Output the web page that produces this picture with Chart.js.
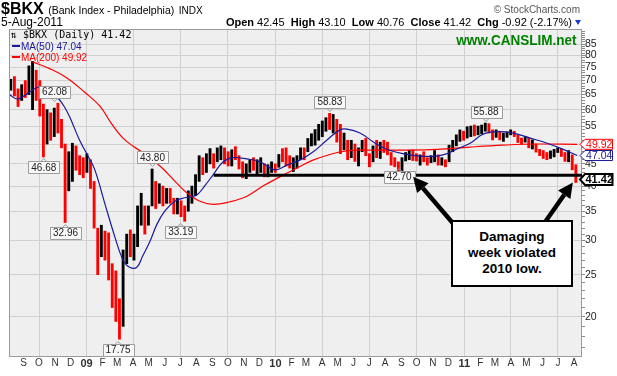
<!DOCTYPE html>
<html><head><meta charset="utf-8">
<script src="https://cdn.jsdelivr.net/npm/chart.js@4.4.1/dist/chart.umd.min.js"></script>
<style>
html,body{margin:0;padding:0;background:#fff;}
#wrap{position:relative;width:617px;height:376px;overflow:hidden;font-family:"Liberation Sans",Arial,sans-serif;color:#000;}
canvas{position:absolute;left:0;top:0;}
.t{position:absolute;white-space:nowrap;line-height:1;}
</style></head><body>
<div id="wrap">
<canvas id="c" width="617" height="376"></canvas>
<div class="t" style="left:1px;top:1px;"><b style="font-size:16px">$BKX</b> <span style="font-size:10.5px">(Bank Index - Philadelphia)</span> <span style="font-size:10px">INDX</span></div>
<div class="t" style="left:1px;top:16px;font-size:12px">5-Aug-2011</div>
<div class="t" style="right:45px;top:17px;font-size:11px"><b>Open</b> 42.45&nbsp; <b>High</b> 43.10&nbsp; <b>Low</b> 40.76&nbsp; <b>Close</b> 41.42&nbsp; <b>Chg</b> -0.92 (-2.17%)</div>
<div style="position:absolute;left:575px;top:20px;width:0;height:0;border-left:3.5px solid transparent;border-right:3.5px solid transparent;border-top:5px solid #1a3cd0;"></div>
<div class="t" style="right:37px;top:5px;font-size:10px;color:#555">© StockCharts.com</div>
<div class="t" style="right:40px;top:32px;font-size:15px;font-weight:bold;color:#008000;transform:scaleX(0.9);transform-origin:right center">www.CANSLIM.net</div>
<div class="t" style="left:11px;top:30px;font-size:10px;font-family:'DejaVu Sans Mono',monospace">⇅ $BKX (Daily) 41.42</div>
<div style="position:absolute;left:12px;top:45px;width:8px;height:2px;background:#1a1a9a"></div>
<div class="t" style="left:21px;top:41.5px;font-size:10px;color:#1a1a9a">MA(50) 47.04</div>
<div style="position:absolute;left:12px;top:56px;width:8px;height:2px;background:#ff0000"></div>
<div class="t" style="left:21px;top:52.5px;font-size:10px;color:#ff0000">MA(200) 49.92</div>
<div style="position:absolute;left:451px;top:220px;width:122px;height:67px;box-sizing:border-box;border:2px solid #000;background:#fff;font-weight:bold;font-size:13.5px;text-align:center;line-height:16px;padding-top:7px;">Damaging<br>week violated<br>2010 low.</div>
</div>
<script>
// ---- DATA (weekly bars; week index 0 = week of 4-Aug-2008) ----
const highs = [70.5,
 71.5,67,68.5,70,75.7,77.5,74,70,61.8,60,
 59,60.5,62.08,57,50,48,50.2,49.5,47,46.5,
 47.5,46,41,32,32.5,31.5,31.2,26.5,25.5,22,
 28.5,31,31.7,31,36,38.5,36,36,43.8,41,
 40.5,40,39.5,39.5,37.5,37.5,37,36,39,40,
 42.5,47,46.5,47.5,48.8,47.5,49,49.5,49,48,
 48.5,49.3,47,45.5,45,46,46.5,46,46.5,45,
 44.8,45.5,45,47.3,48.8,49,47,46.5,47,49,
 49,51.5,52.8,54,55.5,56.5,57.5,58.83,58.5,57,
 55.5,53,51,51,50,49,51,51.5,47.5,49.5,
 51,50.5,51,50.5,47.8,46.5,45.5,46.5,47.8,48.4,
 48.5,47.5,47.2,48,46.5,47,48.3,47.2,46.5,46,
 49.7,51,52.5,53.9,53.5,54.8,55,55.3,55,55.3,
 55.88,55.7,53.9,53.9,53.5,53,53.3,53.9,53.5,52.5,
 51.6,52,51.6,51.1,50,48.6,48.3,47.8,48.2,48.6,
 49,48.7,47.8,48.3,47.2,44.8];
const lows = [66.5,
 64.5,61,63,64,65,60,63,58,46.68,50,
 51,52,53,49,32.96,39,41,43.5,42.5,41.8,
 43,39.5,32,25,27.5,27,24.3,21,19.5,17.75,
 19,26.5,27.5,27,29,32.5,31,32.5,36,35.5,
 36.5,36,36.5,36.5,34.5,34.5,34,33.19,35,36.5,
 38,41,42.5,43,45,44,45.5,46,45,44.5,
 44.5,46,43.8,41.8,41.6,43,43.5,42.5,43,42,
 42,43,43,44.2,45.5,44.5,44,43.2,44,46,
 46,48,49.5,49.7,51,52,53.5,54,53,50.5,
 47.5,48.5,46,46.5,45.6,44.5,48,47,44.3,45.5,
 46.5,46.3,47.8,47.2,44.7,44.3,43,42.7,45.7,46,
 45.8,45.7,44.7,45.5,44.7,45.3,45.5,44.7,44.7,44.3,
 45.5,48,49.5,50.7,51,51.6,52,52.2,52.5,52.8,
 53.5,53,51.1,51.8,51.1,50.7,51.8,52.5,52,50.4,
 50,50.5,49,48.7,47.9,47,46.3,46,46.3,46.7,
 47.8,46.8,45.6,45.5,43.6,40.76];
const closes = [69,
 65.5,63,67,65,70,76,66,61,52,55,
 53,59,54,50,37,45,47,45,44,43,
 46,40,33.5,27,30,29.5,25,22,21,19,
 27,29.5,29,30.5,35,37,34,35.5,40.5,37,
 39,38,38.5,37.5,35.5,36,35,34,38.5,39.5,
 42,45.5,44,46.5,47,45,48,48.5,46,45,
 47.5,47,44.5,42.5,44,45.5,44,44.5,45,43,
 43.5,44.5,44,47,46,45,44.5,45,46,48,
 47.5,51,52,53,54.5,55.5,57,55,57,51.5,
 48.5,50.5,47,49,46.5,47,50,48,45,48,
 47,49.5,49,48.5,45,44.5,44,46,46.5,47,
 46.5,46,46.5,46,45.5,46,46.5,45,46,45,
 49,50,51,53,52.5,53.5,54,53.5,54.5,55,
 55,54,52,53,51.5,52,53,53.5,52.5,51,
 50.8,51.5,49.5,49.8,48.5,47.5,46.8,46.3,47,48,
 48.7,47.5,46,47.5,44.5,41.42];

const ma50Week = [0.2,2.4,5.7,7.6,9.0,11.2,13.4,15.4,16.8,19.5,21.7,23.7,26.4,29.2,31.4,33.3,35.3,36.9,38.9,40.8,43.0,45.8,48.5,50.5,52.1,54.1,56.3,59.0,61.8,65.7,69.3,73.4,76.7,80.3,83.9,87.8,91.4,93.3,96.9,100.5,102.4,105.2,108.8,113.5,118.2,121.0,123.7,127.3,130.9,134.8,139.2,143.9,148.6,153.0,156.9];
const ma50 = [64.9,63.5,65.9,67.4,67.7,66.1,64.0,60.7,57.6,51.0,47.1,43.6,36.6,30.6,27.1,26.0,26.0,27.6,29.8,32.6,35.0,36.9,37.6,37.8,38.3,40.1,42.4,45.4,46.5,46.2,45.5,43.6,44.7,45.9,47.9,51.1,53.9,54.1,53.0,50.6,49.5,48.3,47.5,46.9,46.9,47.5,48.7,50.2,52.7,53.4,53.0,51.6,50.2,48.6,47.04];
const ma200Week = [6.5,11.2,15.9,20.9,25.1,28.3,32.0,37.5,42.2,46.6,49.4,52.7,56.3,61.0,65.7,70.1,74.8,79.5,83.9,88.6,92.2,96.1,102.4,108.8,118.2,127.3,136.4,145.8,156.9];
const ma200 = [77.3,74.6,71.1,65.8,61.1,55.7,51.1,47.4,44.1,40.4,38.4,36.9,36.3,36.8,37.9,40.0,42.0,44.0,45.9,47.3,48.1,48.4,48.4,48.4,48.6,49.2,49.7,50.0,49.92];

const monthLabels = ['S','O','N','D','09','F','M','A','M','J','J','A','S','O','N','D','10','F','M','A','M','J','J','A','S','O','N','D','11','F','M','A','M','J','J','A'];
const yTicks = [85,80,75,70,65,60,55,50,45,40,35,30,25,20];

const labelText  = ['62.08','46.68','32.96','17.75','43.80','33.19','58.83','42.70','55.88'];
const labelValue = [62.08,46.68,32.96,17.75,43.80,33.19,58.83,42.70,55.88];
const labelWeek  = [12.6,9.6,15.6,30.1,39.6,47.4,88.6,107.7,131.7];
const labelSide  = [1,-1,-1,-1,1,-1,1,-1,1];

const lastClose = 41.42, lastMA50 = 47.04, lastMA200 = 49.92;
const supportLevel = 42.35, supportFromWeek = 56.5;

// ---- layout helpers ----
const FONT = '"Liberation Sans", Arial, sans-serif';
Chart.defaults.font.family = FONT;
const t0 = Date.UTC(2008,7,4);
const monthPos = monthLabels.map((_,i)=>{ const m = 8+i; return (Date.UTC(2008+Math.floor(m/12), m%12, 1)-t0)/(7*86400000); });
const monthNum = monthLabels.map((_,i)=> (8+i)%12);
const yMinor = []; for(let v=17; v<=91; v++) yMinor.push(v);

const barData = highs.map((h,i)=>({x:i+0.5, y:[lows[i],h]}));
const barColors = closes.map((c,i)=> (i>0 && c<closes[i-1]) ? '#ff0000' : '#000000');

const GRID = '#d0d0d0';
const bgPlugin = {
  id:'bg',
  beforeDraw(chart){
    const {ctx, chartArea:a} = chart;
    ctx.save(); ctx.fillStyle='#efefef'; ctx.fillRect(a.left,a.top,a.right-a.left,a.bottom-a.top); ctx.restore();
  },
  afterDraw(chart){
    const {ctx, chartArea:a, scales:{x,y}} = chart;
    ctx.save();
    ctx.strokeStyle='#9a9a9a'; ctx.lineWidth=1;
    ctx.strokeRect(Math.round(a.left)+0.5, Math.round(a.top)+0.5, Math.round(a.right-a.left)-1, Math.round(a.bottom-a.top)-1);
    const sy = y.getPixelForValue(supportLevel);
    ctx.strokeStyle='#000'; ctx.lineWidth=3;
    ctx.beginPath(); ctx.moveTo(x.getPixelForValue(supportFromWeek), sy); ctx.lineTo(a.right, sy); ctx.stroke();
    ctx.font = '10px '+FONT; ctx.textAlign='center'; ctx.textBaseline='middle';
    labelText.forEach((t,i)=>{
      const px = x.getPixelForValue(labelWeek[i]);
      const tip = y.getPixelForValue(labelValue[i]);
      let cy = labelSide[i]>0 ? tip-11.5 : tip+10.5;
      if (t==='42.70') cy = tip+3;
      const w = Math.round(ctx.measureText(t).width)+6, h=12;
      const l = Math.round(px-w/2)+0.5, tp = Math.round(cy-h/2)+0.5;
      ctx.fillStyle='#f8f8f8'; ctx.strokeStyle='#9c9c9c'; ctx.lineWidth=1;
      ctx.beginPath();
      ctx.rect(l,tp,w,h); ctx.fill(); ctx.stroke();
      ctx.beginPath();
      if (labelSide[i]>0){ ctx.moveTo(px-3,tp+h); ctx.lineTo(px,tp+h+3); ctx.lineTo(px+3,tp+h); }
      else { ctx.moveTo(px-3,tp); ctx.lineTo(px,tp-3); ctx.lineTo(px+3,tp); }
      ctx.stroke();
      ctx.fillStyle='#222'; ctx.fillText(t, px, cy+0.5);
    });
    const boxes = [[lastMA200,'#ff0000',false],[lastMA50,'#1a1a9a',false],[lastClose,'#000000',true]];
    boxes.forEach(([v,col,bold])=>{
      const cy = y.getPixelForValue(v);
      const h = bold?11:10, tipX = a.right-2, bl = tipX+5, br = 612.5;
      ctx.beginPath();
      ctx.moveTo(tipX,cy); ctx.lineTo(bl,cy-h/2); ctx.lineTo(br,cy-h/2); ctx.lineTo(br,cy+h/2); ctx.lineTo(bl,cy+h/2); ctx.closePath();
      ctx.fillStyle='#fff'; ctx.fill();
      ctx.strokeStyle=col; ctx.lineWidth=bold?2:1; ctx.stroke();
      ctx.fillStyle=col; ctx.font=(bold?'bold 11px ':'10.5px ')+FONT; ctx.textAlign='center';
      ctx.fillText(v.toFixed(2), (bl+br)/2+0.5, cy+0.5);
    });
    const arrow = (x1,y1,x2,y2)=>{
      const ang = Math.atan2(y2-y1,x2-x1), L=15, W=7.5;
      const bx = x2-L*Math.cos(ang), by = y2-L*Math.sin(ang);
      ctx.strokeStyle='#000'; ctx.lineWidth=4.5; ctx.lineCap='butt';
      ctx.beginPath(); ctx.moveTo(x1,y1); ctx.lineTo(bx,by); ctx.stroke();
      ctx.fillStyle='#000'; ctx.beginPath();
      ctx.moveTo(x2,y2);
      ctx.lineTo(bx+W*Math.sin(ang), by-W*Math.cos(ang));
      ctx.lineTo(bx-W*Math.sin(ang), by+W*Math.cos(ang));
      ctx.closePath(); ctx.fill();
    };
    const lx = x.getPixelForValue(labelWeek[7])+14, ly = y.getPixelForValue(labelValue[7])+3;
    arrow(457,228, lx, ly);
    const rx = x.getPixelForValue(highs.length-0.5)-3, ry = y.getPixelForValue(lows[lows.length-1]);
    arrow(543,225, rx, ry);
    ctx.restore();
  }
};

new Chart(document.getElementById('c'), {
  type:'bar',
  data:{ datasets:[
    {type:'line', data: ma50Week.map((w,i)=>({x:w,y:ma50[i]})), borderColor:'#1a1a9a', borderWidth:1.2, pointRadius:0, tension:0.4, fill:false, order:1},
    {type:'line', data: ma200Week.map((w,i)=>({x:w,y:ma200[i]})), borderColor:'#ff0000', borderWidth:1.2, pointRadius:0, tension:0.4, fill:false, order:2},
    {type:'bar', data: barData, backgroundColor: barColors, barThickness:2.2, grouped:false, borderWidth:0, order:3}
  ]},
  options:{
    responsive:false, animation:false, devicePixelRatio:1,
    layout:{padding:{left:9, top:29, right:0, bottom:0}},
    plugins:{legend:{display:false}, tooltip:{enabled:false}},
    scales:{
      x:{type:'linear', min:0, max:158.2, offset:false, bounds:'data',
        afterBuildTicks: s=>{ s.ticks = monthPos.map(v=>({value:v})); },
        afterFit: s=>{ s.height = 19; },
        grid:{ offset:false, drawTicks:false, lineWidth:1,
          color: c => (c.index!==undefined && monthNum[c.index]%3===0) ? GRID : 'rgba(0,0,0,0)' },
        border:{display:false},
        ticks:{ autoSkip:false, maxRotation:0, minRotation:0, padding:0, color:'#333',
          font: c => (monthNum[c.index]===0) ? {family:FONT, size:11, weight:'bold'} : {family:FONT, size:10},
          callback:(v,i)=> monthLabels[i] }
      },
      y:{type:'logarithmic', position:'right', min:16.15, max:92.05, bounds:'data',
        afterBuildTicks: s=>{ s.ticks = yMinor.map(v=>({value:v})); },
        afterFit: s=>{ s.width = 35; },
        grid:{ drawTicks:true, tickLength:3, lineWidth:1,
          color: c => (c.tick && yTicks.includes(c.tick.value)) ? GRID : 'rgba(0,0,0,0)',
          tickColor:'#8a8a8a' },
        border:{display:false},
        ticks:{ autoSkip:false, padding:0, color:'#222', font:{family:FONT, size:10.5},
          callback: v => yTicks.includes(v) ? String(v) : '' }
      }
    }
  },
  plugins:[bgPlugin]
});
</script>
</body></html>
